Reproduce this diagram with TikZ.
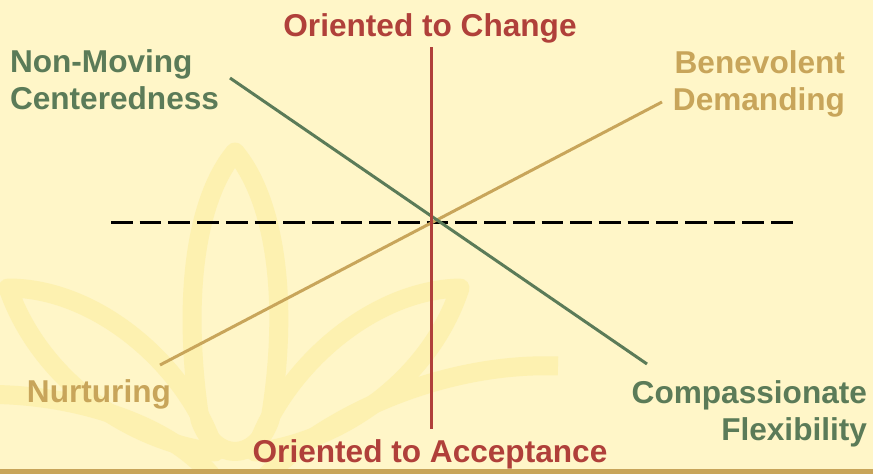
\documentclass[tikz,border=0pt]{standalone}
\usepackage{fontspec}
\setmainfont{Liberation Sans}

\definecolor{paper}{RGB}{255,246,200}
\definecolor{lotus}{RGB}{253,241,176}
\definecolor{brick}{RGB}{176,64,58}
\definecolor{sage}{RGB}{91,123,88}
\definecolor{ochre}{RGB}{200,165,90}

\begin{document}
\begin{tikzpicture}[x=1pt, y=-1pt]
\tikzset{ inner sep=0pt, outer sep=0pt,
  lbl/.style={font=\fontsize{31.6}{37}\selectfont\bfseries},
  petal/.style={lotus, line width=19pt, line join=round},
  axis/.style={line width=3pt},
}

% page and faint lotus behind everything
\fill [paper] (0,0) rectangle (873,474);
\useasboundingbox (0,0) rectangle (873,474);
\begin{scope}
\clip (0,0) rectangle (873,468);
\draw [petal] (235,152) .. controls (195,200) and (182,300) .. (200,420)
              .. controls (215,462) and (255,462) .. (270,420)
              .. controls (290,300) and (275,200) .. (235,152) -- cycle;
\draw [petal] (8,288) .. controls (100,288) and (190,370) .. (215,452)
              .. controls (130,442) and (40,380) .. (8,288) -- cycle;
\draw [petal] (460,288) .. controls (370,290) and (282,370) .. (255,452)
              .. controls (340,442) and (430,380) .. (460,288) -- cycle;
\draw [petal] (-30,395) .. controls (60,390) and (170,420) .. (215,480);
\draw [petal] (558,366) .. controls (450,362) and (330,410) .. (262,480);
\end{scope}
\fill [ochre] (0,469) rectangle (873,474);

%\draw [lightgray, dashed](0,0) grid[step=50] (873,474);

% two-line labels sit on the baseline of their last line
\node [lbl, brick, anchor=base] (CH) at (430,36) {Oriented to Change};
\node [lbl, brick, anchor=base] (AC) at (430,462) {Oriented to Acceptance};
\node [lbl, sage, anchor=base west, align=left] (NM) at (10,109) {Non-Moving\\Centeredness};
\node [lbl, ochre, anchor=base east, align=right] (BD) at (845,110) {Benevolent\\Demanding};
\node [lbl, ochre, anchor=base west] (NU) at (27,402) {Nurturing};
\node [lbl, sage, anchor=base east, align=right] (CF) at (867,440) {Compassionate\\Flexibility};

\coordinate (top) at (431,47);
\coordinate (bot) at (431,429);
\coordinate (west) at (111,222);
\coordinate (east) at (795,222);
\coordinate (nm) at (230,78);
\coordinate (cf) at (647,364);
\coordinate (bd) at (662,102);
\coordinate (nu) at (160,365);

\draw [axis, dash pattern=on 21.7pt off 7pt] (west) -- (east);
\draw [axis, ochre] (nu) -- (bd);
\draw [axis, sage] (nm) -- (cf);
\draw [axis, brick] (top) -- (bot);
\end{tikzpicture}
\end{document}
